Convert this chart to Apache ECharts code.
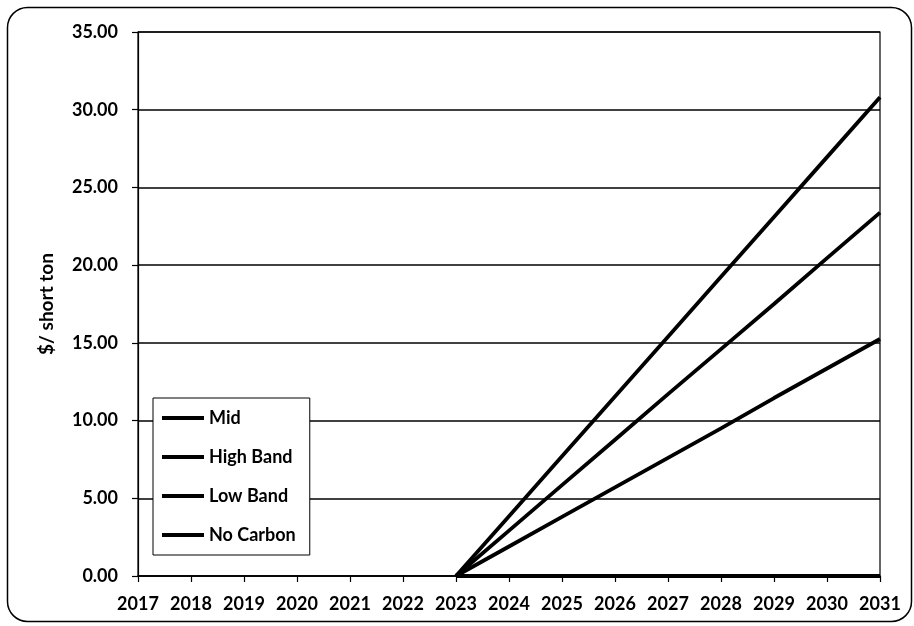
<!DOCTYPE html>
<html>
<head>
<meta charset="utf-8">
<style>
  html, body { margin: 0; padding: 0; background: #fff; }
  #chart { width: 914px; height: 626px; }
</style>
<script src="https://cdn.jsdelivr.net/npm/echarts@6/dist/echarts.min.js"></script>
</head>
<body>
<div id="chart"></div>
<script>
// Carbon price scenarios, $ per short ton
const years = ['2017','2018','2019','2020','2021','2022','2023','2024','2025','2026','2027','2028','2029','2030','2031'];
const highBand = [null, null, null, null, null, null, 0, 3.85, 7.7, 11.55, 15.4, 19.25, 23.1, 26.95, 30.8];
const mid      = [null, null, null, null, null, null, 0, 2.92, 5.85, 8.77, 11.7, 14.6, 17.5, 20.45, 23.38];
const lowBand  = [null, null, null, null, null, null, 0, 1.9, 3.8, 5.7, 7.6, 9.5, 11.45, 13.35, 15.25];
const noCarbon = [null, null, null, null, null, null, 0, 0, 0, 0, 0, 0, 0, 0, 0];
const yTicks = { min: 0, max: 35, step: 5 };
const yTitle = '$/ short ton';

const FONT = 'Lato';
const chart = echarts.init(document.getElementById('chart'), null, { renderer: 'canvas' });

function line(name, data) {
  return {
    name, type: 'line', data,
    symbol: 'none', showSymbol: false,
    lineStyle: { color: '#000', width: 3.8 },
    itemStyle: { color: '#000' },
    clip: false,
    z: 5
  };
}

chart.setOption({
  animation: false,
  backgroundColor: '#fff',
  textStyle: { fontFamily: FONT },
  grid: {
    left: 138, right: 34, top: 32, bottom: 50,
    show: true, borderColor: '#000', borderWidth: 1.2, backgroundColor: 'transparent'
  },
  graphic: [{
    type: 'rect',
    shape: { x: 7.5, y: 7.5, width: 904, height: 614, r: 20 },
    style: { fill: 'none', stroke: '#000', lineWidth: 1.5 },
    silent: true, z: -1
  }],
  legend: {
    orient: 'vertical',
    left: 153, top: 398,
    padding: [11, 14, 11, 9],
    itemWidth: 42, itemHeight: 4,
    itemGap: 21,
    backgroundColor: '#fff',
    borderColor: '#000', borderWidth: 1,
    icon: 'rect',
    textStyle: { fontFamily: FONT, fontWeight: 'bold', fontSize: 18, color: '#000' },
    data: ['Mid', 'High Band', 'Low Band', 'No Carbon']
  },
  xAxis: {
    type: 'category',
    data: years,
    boundaryGap: false,
    axisLine: { show: true, lineStyle: { color: '#000', width: 1.5 } },
    axisTick: { show: true, length: 6, interval: 0, lineStyle: { color: '#000', width: 1.2 } },
    axisLabel: {
      color: '#000', fontFamily: FONT, fontWeight: 'bold', fontSize: 18, margin: 19,
      interval: 0, hideOverlap: false
    },
    splitLine: { show: false }
  },
  yAxis: {
    type: 'value',
    min: yTicks.min, max: yTicks.max, interval: yTicks.step,
    name: yTitle,
    nameLocation: 'middle',
    nameGap: 82,
    nameRotate: 90,
    nameTextStyle: { color: '#000', fontFamily: FONT, fontWeight: 'bold', fontSize: 19 },
    axisLine: { show: true, lineStyle: { color: '#000', width: 1.2 } },
    axisTick: { show: true, length: 6, lineStyle: { color: '#000', width: 1.2 } },
    axisLabel: {
      color: '#000', fontFamily: FONT, fontWeight: 'bold', fontSize: 18, margin: 20,
      formatter: v => v.toFixed(2)
    },
    splitLine: { show: true, lineStyle: { color: '#000', width: 1.5 } }
  },
  series: [
    line('Mid', mid),
    line('High Band', highBand),
    line('Low Band', lowBand),
    line('No Carbon', noCarbon)
  ]
});
</script>
</body>
</html>
